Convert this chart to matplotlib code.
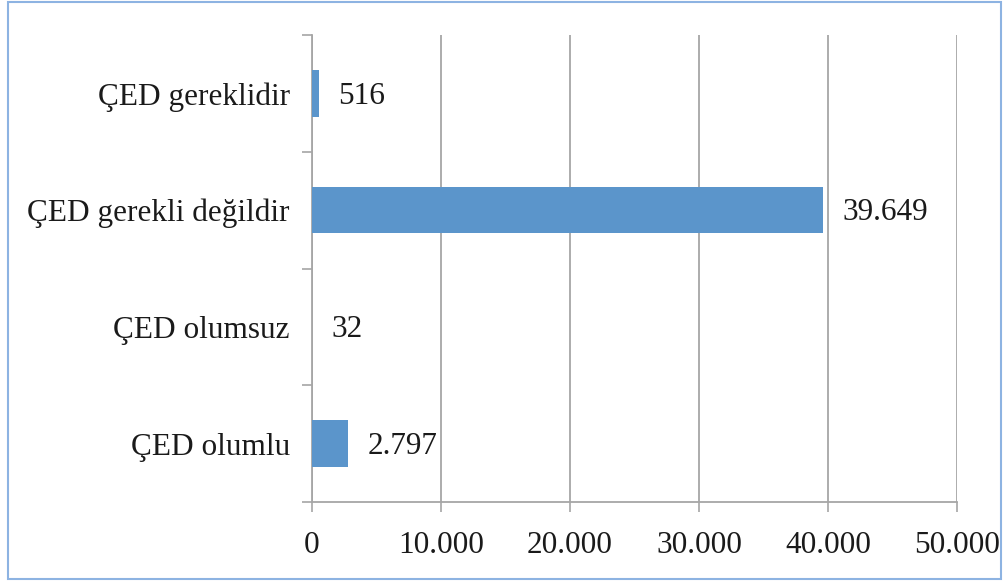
import matplotlib.pyplot as plt
from matplotlib.patches import Rectangle

categories = ['ÇED olumlu', 'ÇED olumsuz', 'ÇED gerekli değildir', 'ÇED gereklidir']
values = [2797, 32, 39649, 516]
xticks = [0, 10000, 20000, 30000, 40000, 50000]


def fmt(v):
    return f'{v:,}'.replace(',', '.')


plt.rcParams['font.family'] = ['Liberation Serif', 'DejaVu Serif']
text_color = '#1a1a1a'
grid_color = '#a6a6a6'

fig = plt.figure(figsize=(10.04, 5.81), dpi=100)
ax = fig.add_axes([312 / 1004, 1 - 502 / 581, (957 - 312) / 1004, (502 - 35) / 581])

pos = range(len(categories))
ax.barh(pos, values, height=0.4, color='#5b95cb', zorder=3)
for y, v in zip(pos, values):
    ax.annotate(fmt(v), (v, y), xytext=(14, -2), textcoords='offset points',
                va='center', ha='left', fontsize=22.5, color=text_color)

ax.set_xlim(0, 50000)
ax.set_ylim(-0.5, len(categories) - 0.5)
ax.set_xticks(xticks)
ax.set_xticklabels([fmt(t) for t in xticks], fontsize=22.5, color=text_color)
ax.set_yticks(list(pos))
ax.set_yticklabels(categories, fontsize=22.5, color=text_color,
                   va='center_baseline')
ax.set_yticks([i - 0.5 for i in range(len(categories) + 1)], minor=True)

ax.tick_params(axis='y', which='major', length=0, pad=16)
ax.tick_params(axis='y', which='minor', length=7, width=1.2, color=grid_color)
ax.tick_params(axis='x', length=7, width=1.2, color=grid_color, pad=14)

ax.xaxis.grid(True, color=grid_color, linewidth=1.3, zorder=0)
for s in ['top', 'right']:
    ax.spines[s].set_visible(False)
for s in ['left', 'bottom']:
    ax.spines[s].set_color(grid_color)
    ax.spines[s].set_linewidth(1.3)

fig.patches.append(Rectangle((8 / 1004, 2 / 581), 993 / 1004, 577 / 581,
                             transform=fig.transFigure, fill=False,
                             edgecolor='#8db3e2', linewidth=1.5))

fig.savefig('out.png', dpi=100)
